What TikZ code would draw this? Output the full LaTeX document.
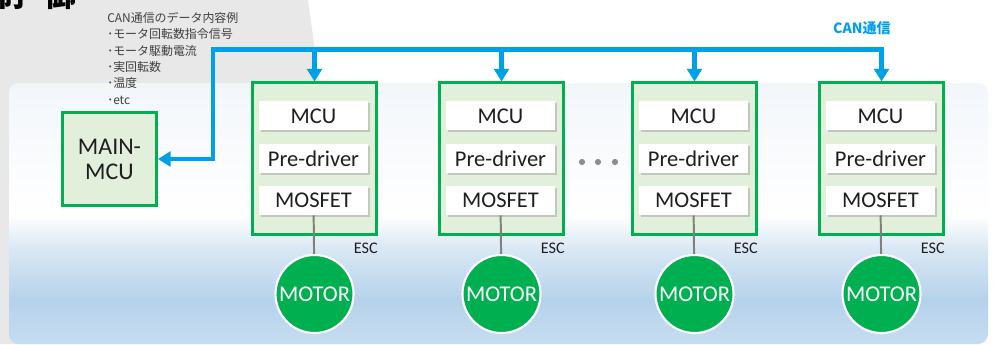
\documentclass[tikz,border=0pt]{standalone}
\usepackage{fontspec}
\setmainfont{Carlito}
\newfontfamily\jp{Noto Sans CJK JP}
\usetikzlibrary{arrows.meta,positioning,shadows}
\definecolor{Bus}{HTML}{00A0E9}
\definecolor{Leaf}{HTML}{00B050}
\definecolor{Sage}{HTML}{E2EFDA}
\definecolor{Ink}{HTML}{1E1E1E}
\definecolor{Slate}{HTML}{404040}
\definecolor{Ash}{HTML}{E8E8E8}
\definecolor{Wire}{HTML}{808080}
\definecolor{SkyTop}{HTML}{F2F6FB}
\definecolor{SkyUp}{HTML}{D8E7F4}
\definecolor{SkyMid}{HTML}{B5D2EB}
\definecolor{SkyLow}{HTML}{C6DDF0}
\pgfdeclareverticalshading{panelsky}{100bp}{color(0bp)=(SkyLow); color(25bp)=(SkyLow);
  color(33.4bp)=(SkyMid); color(43bp)=(SkyUp); color(49.7bp)=(white);
  color(75bp)=(SkyTop); color(100bp)=(SkyTop)}

\begin{document}
\begin{tikzpicture}[x=0.025cm, y=-0.025cm,
    unit/.style={draw=Leaf, fill=Sage, line width=2pt, minimum width=3.1cm,
                 minimum height=3.78cm},
    mainbox/.style={draw=Leaf, fill=Sage, line width=2pt, minimum width=2.35cm,
                 minimum height=2.33cm, align=center, text=Ink,
                 font=\fontsize{17}{17.8}\selectfont},
    part/.style={fill=white, minimum width=2.725cm, minimum height=0.725cm,
                 inner sep=0pt, text=Ink, font=\fontsize{16}{18}\selectfont,
                 drop shadow={shadow xshift=1.2pt, shadow yshift=-1.2pt, opacity=.35}},
    motor/.style={circle, fill=Leaf, draw=white, line width=1.5pt,
                 minimum size=1.95cm, inner sep=0pt, text=white,
                 font=\fontsize{16}{19}\selectfont},
    esctag/.style={anchor=north east, inner sep=0pt, text=Ink,
                 font=\fontsize{11.5}{14}\selectfont},
    wire/.style={draw=Wire, line width=1.4pt},
    bus/.style={draw=Bus, line width=3.3pt, -{Triangle[length=9pt, width=10.5pt]}}]
    \useasboundingbox (0,0) rectangle (999,344);
    \fill[white] (0,0) rectangle (999,344);
    \fill[Ash] (0,0) -- (308,0) -- (356,344) -- (0,344) -- cycle;
    \shade[shading=panelsky, rounded corners=7pt] (9,83) rectangle (988,344);
    \node[font=\jp\bfseries\fontsize{23}{23}\selectfont, anchor=base east,
          inner sep=0pt] (title) at (77,6.5) {制\kern.6em御};
    \node[font=\jp\fontsize{8.5}{11.6}\selectfont, text=Slate, align=left,
          anchor=north west, inner sep=0pt] (info) at (107,12)
      {CAN通信のデータ内容例\\･モータ回転数指令信号\\･モータ駆動電流\\･実回転数\\･温度\\･etc};
    \node[font=\jp\bfseries\fontsize{10}{12}\selectfont, text=Bus] (canlbl) at (862,28) {CAN通信};

    \node[mainbox] (main) at (109.5,159) {MAIN-\\MCU};

    \node[unit] (esc1) at (314.5,158.5) {};
    \node[part] (pre1) at (313.5,158.5) {Pre-driver};
    \node[part, above=3.25mm of pre1] (mcu1) {MCU};
    \node[part, below=3.1mm of pre1] (mos1) {MOSFET};
    \node[esctag] at ([yshift=-5pt]esc1.south east) {ESC};
    \node[motor] (mot1) at (314.5,294) {MOTOR};

    \node[unit] (esc2) at (501.5,158.5) {};
    \node[part] (pre2) at (500.5,158.5) {Pre-driver};
    \node[part, above=3.25mm of pre2] (mcu2) {MCU};
    \node[part, below=3.1mm of pre2] (mos2) {MOSFET};
    \node[esctag] at ([yshift=-5pt]esc2.south east) {ESC};
    \node[motor] (mot2) at (501.5,294) {MOTOR};

    \node[unit] (esc3) at (694.5,158.5) {};
    \node[part] (pre3) at (693.5,158.5) {Pre-driver};
    \node[part, above=3.25mm of pre3] (mcu3) {MCU};
    \node[part, below=3.1mm of pre3] (mos3) {MOSFET};
    \node[esctag] at ([yshift=-5pt]esc3.south east) {ESC};
    \node[motor] (mot3) at (694.5,294) {MOTOR};

    \node[unit] (esc4) at (881.5,158.5) {};
    \node[part] (pre4) at (880.5,158.5) {Pre-driver};
    \node[part, above=3.25mm of pre4] (mcu4) {MCU};
    \node[part, below=3.1mm of pre4] (mos4) {MOSFET};
    \node[esctag] at ([yshift=-5pt]esc4.south east) {ESC};
    \node[motor] (mot4) at (881.5,294) {MOTOR};

    \fill[Wire!90] (582,162) circle (2.2pt) (598,162) circle (2.2pt) (615,162) circle (2.2pt);

    \draw[wire] (mos1) -- (mot1); \draw[wire] (mos2) -- (mot2);
    \draw[wire] (mos3) -- (mot3); \draw[wire] (mos4) -- (mot4);

    \coordinate (tap) at (213,49.5);
    \draw[bus, {Triangle[length=9pt, width=10.5pt]}-{Triangle[length=9pt, width=10.5pt]}]
      (esc4.north) |- (tap) |- (main.east);
    \draw[bus] (esc1.north |- tap) -- (esc1.north);
    \draw[bus] (esc2.north |- tap) -- (esc2.north);
    \draw[bus] (esc3.north |- tap) -- (esc3.north);
  \end{tikzpicture}
\end{document}
